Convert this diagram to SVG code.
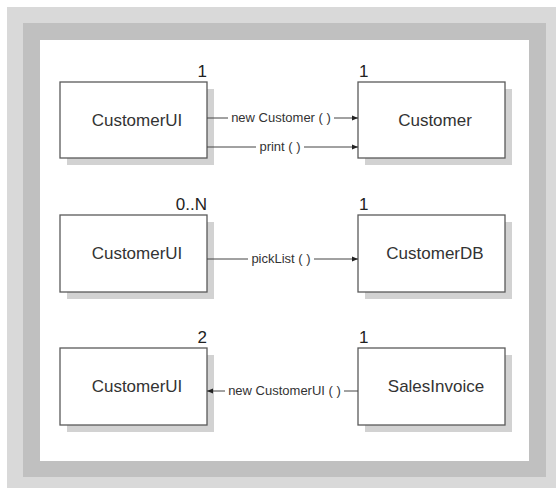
<svg xmlns="http://www.w3.org/2000/svg" width="556" height="488" viewBox="0 0 556 488">
<style>
.box{fill:#ffffff;stroke:#5a5a5a;stroke-width:1.3}
.shadow{fill:#d2d2d2}
.name{font-family:"Liberation Sans",Arial,sans-serif;font-size:17px;fill:#333;text-anchor:middle}
.mult{font-family:"Liberation Sans",Arial,sans-serif;font-size:17px;fill:#222}
.lbl{font-family:"Liberation Sans",Arial,sans-serif;font-size:13px;fill:#333;text-anchor:middle}
.conn{stroke:#444;stroke-width:1;fill:none}
</style>
<defs>
<marker id="arr" markerWidth="6" markerHeight="6" refX="6" refY="3" orient="auto" markerUnits="userSpaceOnUse">
<path d="M0,0.5 L6,3 L0,5.5 Z" fill="#222"/>
</marker>
</defs>
<rect x="7" y="7" width="549" height="481" fill="#d9d9d9"/>
<rect x="23" y="23" width="523" height="454" fill="#c0c0c0"/>
<rect x="40" y="40" width="489" height="421" fill="#ffffff"/>

<g id="customerui1">
<rect class="shadow" x="67" y="89" width="147" height="76"/>
<rect class="box" x="60" y="82" width="147" height="76"/>
<text class="name" x="137" y="126">CustomerUI</text>
<text class="mult" x="207" y="77" text-anchor="end">1</text>
</g>
<g id="customer">
<rect class="shadow" x="365" y="89" width="147" height="76"/>
<rect class="box" x="358" y="82" width="147" height="76"/>
<text class="name" x="435" y="126">Customer</text>
<text class="mult" x="359" y="77">1</text>
</g>
<g id="customerui2">
<rect class="shadow" x="67" y="222" width="147" height="77"/>
<rect class="box" x="60" y="215" width="147" height="77"/>
<text class="name" x="137" y="259">CustomerUI</text>
<text class="mult" x="207" y="210" text-anchor="end">0..N</text>
</g>
<g id="customerdb">
<rect class="shadow" x="365" y="222" width="147" height="77"/>
<rect class="box" x="358" y="215" width="147" height="77"/>
<text class="name" x="435" y="259">CustomerDB</text>
<text class="mult" x="359" y="210">1</text>
</g>
<g id="customerui3">
<rect class="shadow" x="67" y="355" width="147" height="77"/>
<rect class="box" x="60" y="348" width="147" height="77"/>
<text class="name" x="137" y="392">CustomerUI</text>
<text class="mult" x="207" y="343" text-anchor="end">2</text>
</g>
<g id="salesinvoice">
<rect class="shadow" x="365" y="355" width="147" height="77"/>
<rect class="box" x="358" y="348" width="147" height="77"/>
<text class="name" x="436" y="392">SalesInvoice</text>
<text class="mult" x="359" y="343">1</text>
</g>

<g id="connectors">
<path class="conn" d="M207,118 H228"/>
<path class="conn" d="M334,118 H358" marker-end="url(#arr)"/>
<text class="lbl" x="281" y="122">new Customer ( )</text>
<path class="conn" d="M207,147 H256"/>
<path class="conn" d="M304,147 H358" marker-end="url(#arr)"/>
<text class="lbl" x="280" y="151">print ( )</text>
<path class="conn" d="M207,259 H248"/>
<path class="conn" d="M314,259 H358" marker-end="url(#arr)"/>
<text class="lbl" x="281" y="263">pickList ( )</text>
<path class="conn" d="M358,391 H344"/>
<path class="conn" d="M225,391 H207" marker-end="url(#arr)"/>
<text class="lbl" x="284.5" y="395">new CustomerUI ( )</text>
</g>
</svg>
